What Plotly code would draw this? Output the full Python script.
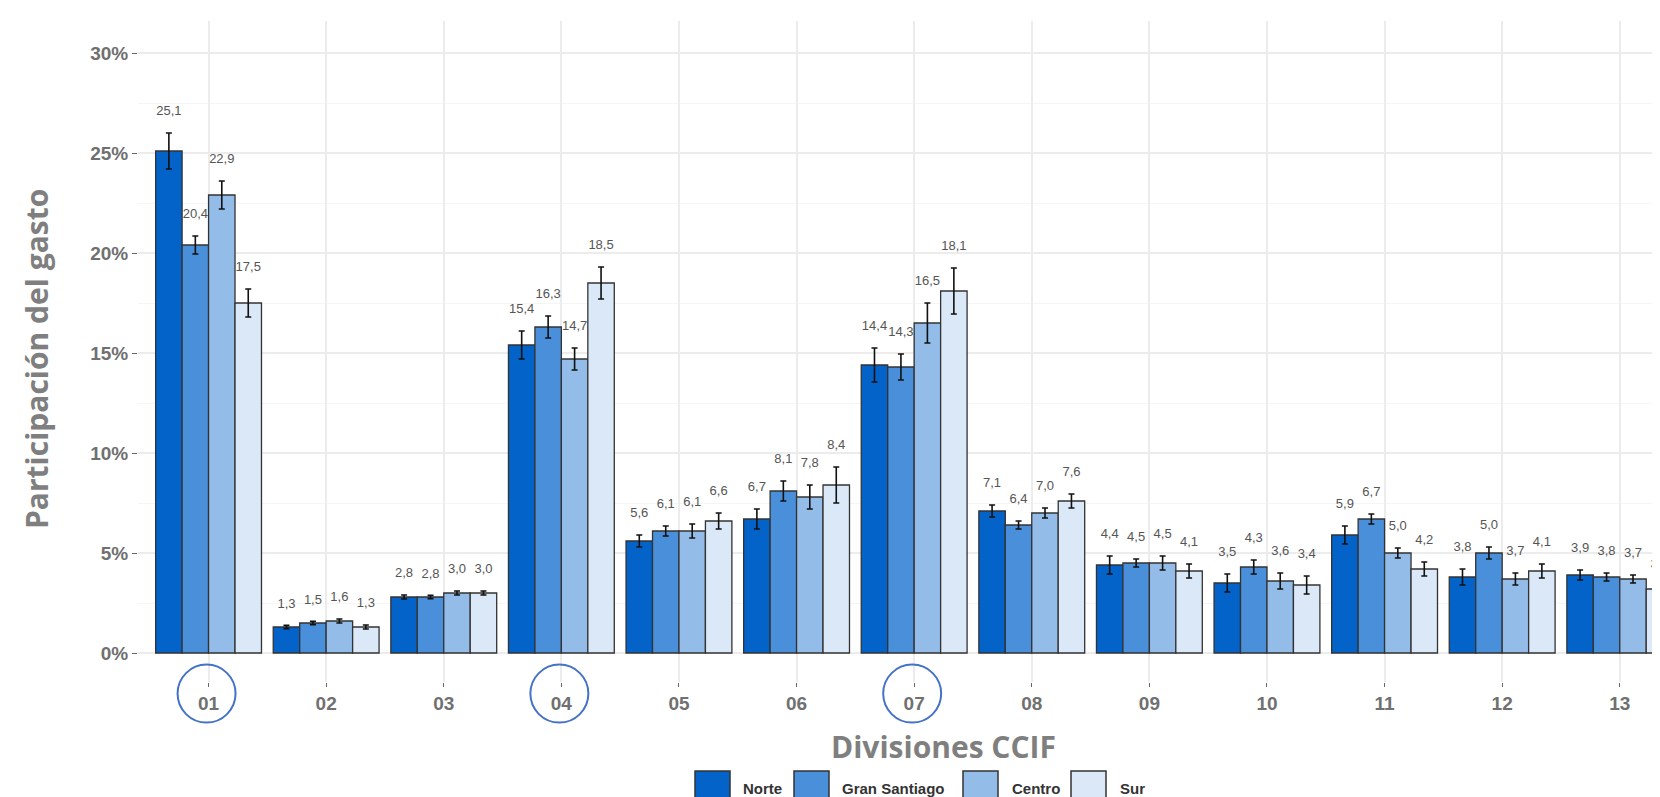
import plotly.graph_objects as go

# ---------------- data ----------------
categories = ["01", "02", "03", "04", "05", "06", "07", "08", "09", "10", "11", "12", "13"]
regions = ["Norte", "Gran Santiago", "Centro", "Sur"]

norte = [25.1, 1.3, 2.8, 15.4, 5.6, 6.7, 14.4, 7.1, 4.4, 3.5, 5.9, 3.8, 3.9]
gran_santiago = [20.4, 1.5, 2.8, 16.3, 6.1, 8.1, 14.3, 6.4, 4.5, 4.3, 6.7, 5.0, 3.8]
centro = [22.9, 1.6, 3.0, 14.7, 6.1, 7.8, 16.5, 7.0, 4.5, 3.6, 5.0, 3.7, 3.7]
sur = [17.5, 1.3, 3.0, 18.5, 6.6, 8.4, 18.1, 7.6, 4.1, 3.4, 4.2, 4.1, 3.2]

norte_err = [0.9, 0.08, 0.1, 0.7, 0.3, 0.5, 0.85, 0.3, 0.45, 0.45, 0.45, 0.4, 0.25]
gran_santiago_err = [0.45, 0.08, 0.08, 0.55, 0.25, 0.5, 0.65, 0.2, 0.2, 0.35, 0.25, 0.3, 0.2]
centro_err = [0.7, 0.1, 0.1, 0.55, 0.35, 0.6, 1.0, 0.25, 0.35, 0.4, 0.25, 0.3, 0.2]
sur_err = [0.7, 0.1, 0.1, 0.8, 0.4, 0.9, 1.15, 0.35, 0.35, 0.45, 0.35, 0.35, 0.15]

highlighted = ["01", "04", "07"]

y_tick_values = [0, 5, 10, 15, 20, 25, 30]
y_tick_labels = ["0%", "5%", "10%", "15%", "20%", "25%", "30%"]

# ---------------- style ----------------
colors = ["#0363C9", "#4A8FDA", "#93BCE8", "#DBE8F8"]
series = [norte, gran_santiago, centro, sur]
errors = [norte_err, gran_santiago_err, centro_err, sur_err]

W, H = 1660, 797
L, R, T, B = 130, 1660, 13, 674
X_RANGE = [0.4, 13.41]
Y_RANGE = [-1.45, 31.6]
GROUP_W = 0.9
BAR_W = GROUP_W / len(regions)


def px_x(p):
    return (p - L) / (R - L)


def px_y(p):
    return (B - p) / (B - T)


xs = list(range(1, len(categories) + 1))

fig = go.Figure()

# value labels (base subplot -> drawn beneath the bars)
for j, (vals, errs) in enumerate(zip(series, errors)):
    off = (j - (len(regions) - 1) / 2) * BAR_W
    fig.add_trace(go.Scatter(
        x=[x + off for x in xs],
        y=[v + e + 1.05 for v, e in zip(vals, errs)],
        text=[f"{v:.1f}".replace(".", ",") for v in vals],
        mode="text",
        textposition="middle center",
        textfont=dict(family="Liberation Sans", size=13, color="#555555"),
        showlegend=False,
        hoverinfo="skip",
        xaxis="x", yaxis="y",
    ))

# bars with error bars (overlay subplot -> drawn on top)
for name, vals, errs, col in zip(regions, series, errors, colors):
    fig.add_trace(go.Bar(
        x=xs, y=vals, name=name,
        marker=dict(color=col, line=dict(color="#333333", width=1.3)),
        error_y=dict(type="data", array=errs, color="#111111", thickness=1.6, width=3),
        xaxis="x2", yaxis="y2",
        showlegend=False,
    ))

tick_font = dict(family="Liberation Sans", size=19, color="#707070", weight="bold")

fig.update_layout(
    width=W, height=H,
    margin=dict(l=L, r=W - R, t=T, b=H - B),
    paper_bgcolor="white", plot_bgcolor="white",
    barmode="group", bargap=1 - GROUP_W, bargroupgap=0,
    showlegend=False,
    xaxis=dict(
        range=X_RANGE, tickmode="array", tickvals=xs, ticktext=categories,
        showgrid=True, gridcolor="#ECECEC", gridwidth=1.5,
        zeroline=False, showline=False,
        ticks="outside", ticklen=4, tickwidth=1.2, tickcolor="#666666",
        tickfont=tick_font, fixedrange=True, automargin=False,
    ),
    yaxis=dict(
        range=Y_RANGE, tickmode="array", tickvals=y_tick_values, ticktext=y_tick_labels,
        showgrid=True, gridcolor="#ECECEC", gridwidth=1.5,
        minor=dict(dtick=2.5, tick0=0, showgrid=True, gridcolor="#F5F5F5", gridwidth=1.3, ticks=""),
        zeroline=False, showline=False,
        ticks="outside", ticklen=5, tickwidth=1.2, tickcolor="#666666",
        tickfont=tick_font, fixedrange=True, automargin=False,
    ),
    xaxis2=dict(range=X_RANGE, overlaying="x", anchor="y2", visible=False, fixedrange=True),
    yaxis2=dict(range=Y_RANGE, overlaying="y", anchor="x2", visible=False, fixedrange=True),
)

title_font = dict(family="Open Sans", size=30, color="#7F7F7F", weight="bold")

# axis titles
fig.add_annotation(text="Divisiones CCIF", xref="paper", yref="paper",
                   x=px_x(935), y=px_y(738), xanchor="center", yanchor="middle",
                   showarrow=False, font=title_font)
fig.add_annotation(text="Participación del gasto", xref="paper", yref="paper",
                   x=px_x(28), y=px_y(351), xanchor="center", yanchor="middle",
                   textangle=-90, showarrow=False, font=title_font)

# circles around highlighted divisions
circle_y = -2.03
for cat in highlighted:
    idx = categories.index(cat) + 1
    fig.add_shape(type="circle", xref="paper", yref="paper",
                  xsizemode="pixel", ysizemode="pixel",
                  xanchor=(idx - X_RANGE[0]) / (X_RANGE[1] - X_RANGE[0]) - 2 / (R - L),
                  yanchor=(circle_y - Y_RANGE[0]) / (Y_RANGE[1] - Y_RANGE[0]),
                  x0=-29, x1=29, y0=-29, y1=29,
                  line=dict(color="#4472C4", width=2))

# manual legend (large square keys)
key_left = [687, 786, 955, 1063]
text_left = [733, 832, 1002, 1110]
key_size = 35
key_top = 763
legend_font = dict(family="Liberation Sans", size=15, color="#333333", weight="bold")
for name, col, kx, tx in zip(regions, colors, key_left, text_left):
    fig.add_shape(type="rect", xref="paper", yref="paper",
                  x0=px_x(kx), x1=px_x(kx + key_size),
                  y0=px_y(key_top), y1=px_y(key_top + key_size),
                  fillcolor=col, line=dict(color="#333333", width=1.5))
    fig.add_annotation(text=name, xref="paper", yref="paper",
                       x=px_x(tx), y=px_y(key_top + 17), xanchor="left", yanchor="middle",
                       showarrow=False, font=legend_font)

fig.write_html("out.html")
